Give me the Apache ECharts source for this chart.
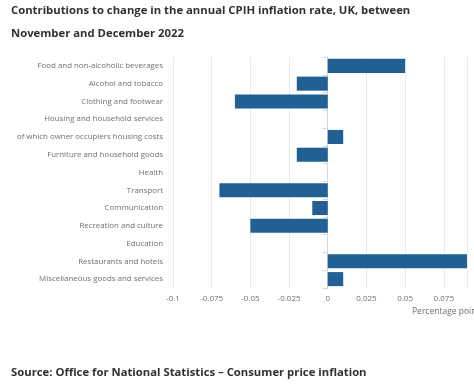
<!DOCTYPE html>
<html><head><meta charset="utf-8">
<script src="https://cdn.jsdelivr.net/npm/echarts@6/dist/echarts.min.js"></script>
<style>html,body{margin:0;padding:0;background:#fff}#c{width:474px;height:384px}</style>
</head><body><div id="c"></div>
<script>
const categories = ["Food and non-alcoholic beverages","Alcohol and tobacco","Clothing and footwear","Housing and household services","of which owner occupiers housing costs","Furniture and household goods","Health","Transport","Communication","Recreation and culture","Education","Restaurants and hotels","Miscellaneous goods and services"];
const values = [0.05,-0.02,-0.06,0,0.01,-0.02,0,-0.07,-0.01,-0.05,0,0.09,0.01];
const tickLabels = ["-0.1","-0.075","-0.05","-0.025","0","0.025","0.05","0.075"];
const titleText = "Contributions to change in the annual CPIH inflation rate, UK, between\nNovember and December 2022";
const sourceText = "Source: Office for National Statistics \u2013 Consumer price inflation";
const axisName = "Percentage points";

const chart = echarts.init(document.getElementById('c'));
chart.setOption({
  animation:false,
  title:{text:titleText,left:6,top:-6,textStyle:{fontFamily:'Open Sans',fontWeight:'bold',fontSize:11.3,color:'#323132',lineHeight:23}},
  grid:{left:173,right:7,top:57,bottom:96,containLabel:false},
  xAxis:{type:'value',min:-0.1,max:0.09,interval:0.025,
    axisLine:{show:false},axisTick:{show:false},
    splitLine:{show:true,lineStyle:{color:'#ebebeb',width:1}},
    axisLabel:{showMaxLabel:false,fontFamily:'Open Sans',fontSize:8,color:'#707070',margin:7,
      formatter:function(v){const s=String(Math.round(v*1000)/1000);return tickLabels.indexOf(s)>=0?s:'';}}},
  yAxis:{type:'category',data:categories,inverse:true,
    axisLine:{show:true,lineStyle:{color:'#ccd6eb'}},
    axisTick:{show:true,length:5,lineStyle:{color:'#ccd6eb'}},
    axisLabel:{fontFamily:'Open Sans',fontSize:7.9,color:'#707070',margin:10}},
  series:[{type:'bar',data:values,barCategoryGap:'21%',itemStyle:{color:'#206095'}}],
  graphic:[
    {type:'text',left:412,top:307,style:{text:axisName,font:'8.5px "Open Sans"',fill:'#707070'}},
    {type:'text',left:11,top:367,style:{text:sourceText,font:'bold 11.3px "Open Sans"',fill:'#323132'}}
  ]
});
</script></body></html>
